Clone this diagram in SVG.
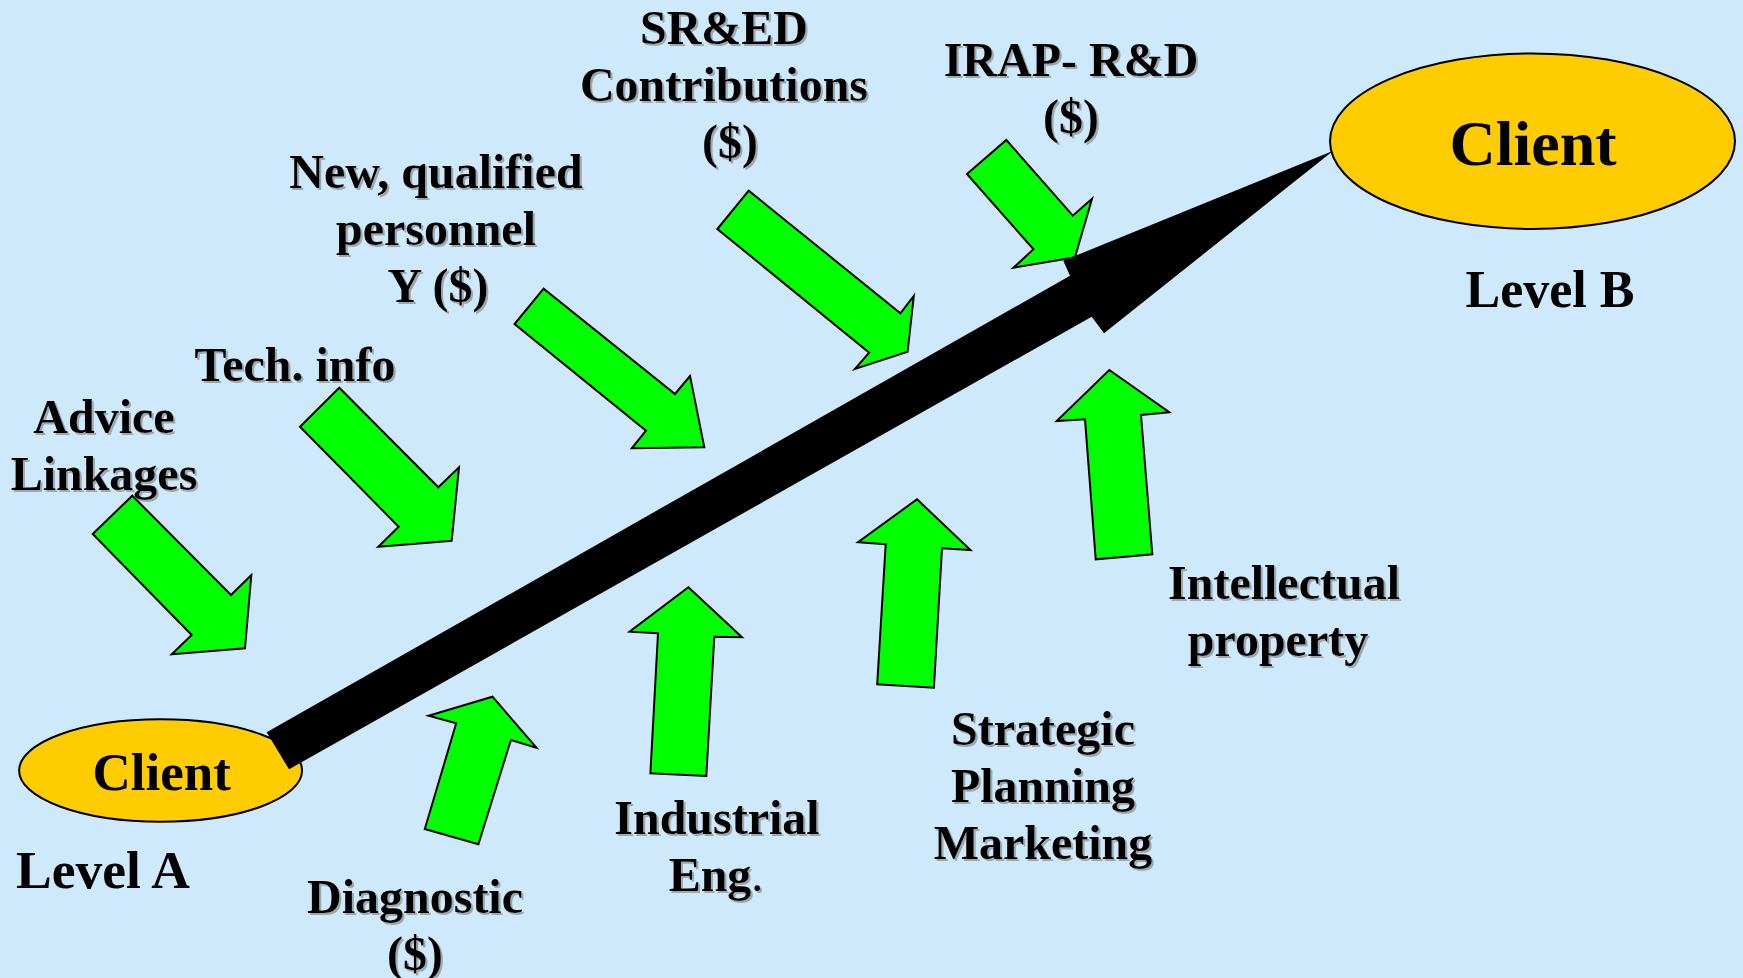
<svg xmlns="http://www.w3.org/2000/svg" width="1743" height="978" viewBox="0 0 1743 978">
<defs>
<filter id="sh" x="-5%" y="-20%" width="110%" height="140%">
<feDropShadow dx="2" dy="2" stdDeviation="0.6" flood-color="#8a8a8a" flood-opacity="0.7"/>
</filter>
</defs>
<style>
.t{font-family:"Liberation Serif","Times New Roman",serif;font-weight:bold;font-size:48px;fill:#000;text-anchor:middle;filter:url(#sh)}
.g{fill:#00ff00;stroke:#000;stroke-width:2;stroke-linejoin:miter}
.cl{fill:#ffcc00;stroke:#000;stroke-width:2}
.ct{font-family:"Liberation Serif","Times New Roman",serif;font-weight:bold;fill:#000;text-anchor:middle}
</style>
<rect x="0" y="0" width="1743" height="978" fill="#cde9fb"/>

<g id="clientA">
<ellipse class="cl" cx="160.6" cy="770.5" rx="141.5" ry="51.2"/>
</g>

<g id="connectors">
<polygon fill="#000" points="266.7,732.3 1070,275.7 1063.3,260.7 1333.3,150.7 1104,333.3 1091.7,316.7 289,769.3"/>
</g>

<g id="clientA-label">
<text class="ct" x="161.7" y="790" font-size="53">Client</text>
<text class="ct" x="16" y="888" font-size="53.5" style="text-anchor:start">Level A</text>
</g>

<g id="clientB">
<ellipse class="cl" cx="1532.5" cy="141.2" rx="202.5" ry="87.8"/>
<text class="ct" x="1533" y="165" font-size="64">Client</text>
<text class="ct" x="1550" y="307" font-size="52">Level B</text>
</g>

<g id="advice">
<polygon class="g" points="92.7,534 132.3,495.7 231,595 251.3,575 245,648.3 171.7,654.3 191.7,635"/>
<text class="t" x="104" y="433">Advice</text>
<text class="t" x="104" y="490">Linkages</text>
</g>

<g id="techinfo">
<polygon class="g" points="300,426.7 339.3,387.7 438.3,487.3 459,467.3 451.7,540.7 378.3,546.7 398.7,526.7"/>
<text class="t" x="295" y="381">Tech. info</text>
</g>

<g id="personnel">
<polygon class="g" points="514.6,324 543.6,288.7 675,394 690,376 704.3,447.3 631.8,448.3 646,430.7"/>
<text class="t" x="436" y="188">New, qualified</text>
<text class="t" x="436" y="245">personnel</text>
<text class="t" x="438" y="302">Y ($)</text>
</g>

<g id="sred">
<polygon class="g" points="717.4,229 748.7,190.7 900.4,313.3 913.8,296 907.6,351.7 854.9,369 869.2,352.7"/>
<text class="t" x="724" y="44">SR&amp;ED</text>
<text class="t" x="724" y="101">Contributions</text>
<text class="t" x="730" y="158">($)</text>
</g>

<g id="irap">
<polygon class="g" points="967,174 1006.3,140 1072.8,215.7 1092,198.7 1075,257.3 1013.4,267.7 1033.5,249.3"/>
<text class="t" x="1071" y="76">IRAP- R&amp;D</text>
<text class="t" x="1071" y="133">($)</text>
</g>

<g id="diagnostic">
<polygon class="g" points="428.6,715.7 492.5,696.7 536.5,747.7 510.9,740 478.4,844.3 424.8,829 456.2,723.3"/>
<text class="t" x="415" y="913">Diagnostic</text>
<text class="t" x="415" y="970">($)</text>
</g>

<g id="industrial">
<polygon class="g" points="688.4,587.3 742,637.3 714.3,636.7 706.3,776 650.4,773.3 658,633.3 629.5,631.7"/>
<text class="t" x="717" y="834">Industrial</text>
<text class="t" x="716" y="891">Eng<tspan font-weight="normal">.</tspan></text>
</g>

<g id="strategic">
<polygon class="g" points="917,499.3 970.5,550 942,548.3 933.9,687.7 877.2,684.3 885.7,544.3 858,542.3"/>
<text class="t" x="1043" y="745">Strategic</text>
<text class="t" x="1043" y="802">Planning</text>
<text class="t" x="1043" y="859">Marketing</text>
</g>

<g id="intellectual">
<polygon class="g" points="1109.3,370 1169.3,412.3 1141,415 1152.3,554.3 1095.7,559.3 1085,419.3 1056.7,421"/>
<text class="t" x="1284" y="599">Intellectual</text>
<text class="t" x="1278" y="656">property</text>
</g>
</svg>
